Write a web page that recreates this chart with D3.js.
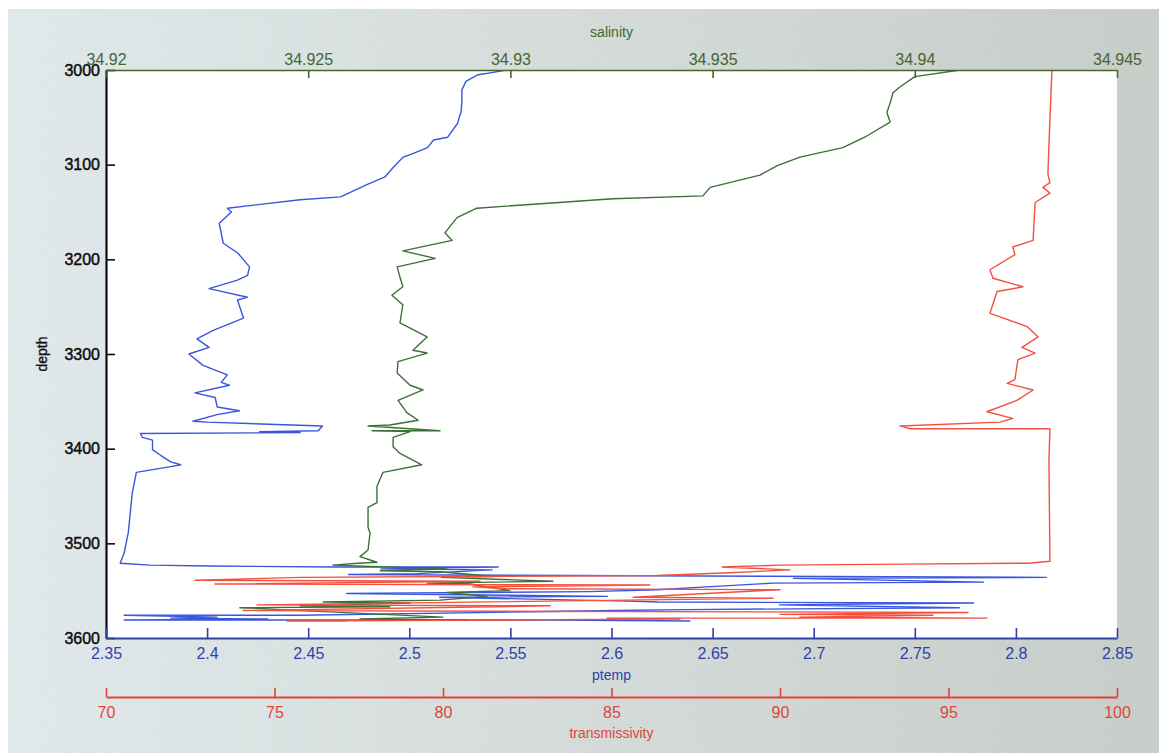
<!DOCTYPE html>
<html>
<head>
<meta charset="utf-8">
<script src="https://cdn.jsdelivr.net/npm/d3@7"></script>
<style>
  html, body { margin: 0; padding: 0; background: #ffffff; }
  svg { display: block; }
  text { font-family: "Liberation Sans", Arial, Helvetica, sans-serif; }
</style>
</head>
<body>
<svg id="chart" width="1159" height="753"></svg>
<script>
// ---- Tick values for the four axes ----
const depthTicks = [3000, 3100, 3200, 3300, 3400, 3500, 3600];
const ptempTicks = [2.35, 2.4, 2.45, 2.5, 2.55, 2.6, 2.65, 2.7, 2.75, 2.8, 2.85];
const salinityTicks = [34.92, 34.925, 34.93, 34.935, 34.94, 34.945];
const transTicks = [70, 75, 80, 85, 90, 95, 100];

// ---- Potential temperature profile: [depth, ptemp] ----
const ptempProfile = [
  [3000, 2.548], [3003, 2.540], [3005, 2.534], [3012, 2.528], [3021, 2.526],
  [3033, 2.526], [3045, 2.5256], [3049, 2.5248], [3056, 2.524],
  [3071, 2.519], [3074, 2.512], [3082, 2.509], [3088, 2.502], [3092, 2.497],
  [3103, 2.492], [3113, 2.488],
  [3121, 2.479], [3134, 2.466], [3137, 2.446], [3146, 2.410], [3150, 2.412],
  [3162, 2.406], [3183, 2.408], [3193, 2.415], [3208, 2.421], [3217, 2.420],
  [3222, 2.415], [3231, 2.401], [3240, 2.420], [3243, 2.415], [3262, 2.418],
  [3275, 2.403], [3284, 2.395], [3293, 2.401], [3300, 2.391], [3312, 2.398],
  [3322, 2.410], [3330, 2.407], [3333, 2.411], [3341, 2.394], [3346, 2.404],
  [3356, 2.405], [3360, 2.416], [3364, 2.405], [3371, 2.393], [3372, 2.400],
  [3376, 2.457], [3381, 2.455], [3382, 2.426], [3383, 2.446], [3384, 2.367],
  [3388, 2.368], [3391, 2.373], [3401, 2.373], [3407, 2.377], [3414, 2.382],
  [3417, 2.387], [3419, 2.382], [3425, 2.365], [3447, 2.363], [3489, 2.361],
  [3510, 2.359], [3521, 2.357], [3523, 2.372], [3524, 2.401], [3525, 2.462],
  [3525, 2.544], [3527, 2.486], [3528, 2.541], [3532, 2.504], [3533, 2.470],
  [3536, 2.815], [3537, 2.690], [3541, 2.784], [3542, 2.680], [3546, 2.647], [3549, 2.623],
  [3551, 2.589], [3553, 2.469], [3556, 2.598], [3557, 2.515], [3561, 2.608],
  [3562, 2.623], [3563, 2.779], [3565, 2.683], [3568, 2.772], [3570, 2.637],
  [3571, 2.601], [3572, 2.570], [3576, 2.446], [3576, 2.359], [3578, 2.405],
  [3579, 2.382], [3580, 2.430], [3581, 2.359], [3581, 2.570], [3582, 2.639]
];

// ---- Salinity profile: [depth, salinity] ----
const salinityProfile = [
  [3000, 34.94112], [3007, 34.94000], [3018, 34.93963], [3024, 34.93946],
  [3035, 34.93939], [3045, 34.93931], [3055, 34.93939], [3070, 34.93880],
  [3082, 34.93822], [3092, 34.93716], [3101, 34.93660], [3111, 34.93617],
  [3124, 34.93494], [3133, 34.93476],
  [3136, 34.93254], [3146, 34.92917], [3156, 34.92868], [3172, 34.92838],
  [3180, 34.92856], [3191, 34.92734], [3199, 34.92814], [3208, 34.92720],
  [3219, 34.92727], [3229, 34.92734], [3238, 34.92707], [3248, 34.92734],
  [3267, 34.92727], [3282, 34.92794], [3296, 34.92759], [3299, 34.92794],
  [3308, 34.92722], [3320, 34.92720], [3333, 34.92752], [3338, 34.92784],
  [3349, 34.92722], [3362, 34.92744], [3370, 34.92772], [3375, 34.92702],
  [3376, 34.92648], [3381, 34.92826], [3381, 34.92658], [3382, 34.92752],
  [3388, 34.92710], [3398, 34.92710], [3405, 34.92727], [3417, 34.92781],
  [3425, 34.92685], [3440, 34.92670], [3457, 34.92670], [3462, 34.92648],
  [3483, 34.92648], [3489, 34.92653], [3507, 34.92648], [3514, 34.92628],
  [3520, 34.92670], [3521, 34.92623], [3523, 34.92561], [3527, 34.92843],
  [3529, 34.92678], [3530, 34.92826], [3535, 34.92960], [3536, 34.92830],
  [3540, 34.93105], [3542, 34.92794],
  [3543, 34.92900], [3550, 34.92999], [3552, 34.92843], [3556, 34.92942],
  [3560, 34.92826], [3562, 34.92537], [3563, 34.92752], [3566, 34.92480],
  [3567, 34.92702], [3568, 34.92331], [3578, 34.92833], [3580, 34.92628],
  [3581, 34.92900]
];

// ---- Transmissivity profile: [depth, transmissivity] ----
const transProfile = [
  [3000, 98.07], [3060, 98.00], [3110, 97.95], [3119, 98.01], [3124, 97.80],
  [3130, 98.01], [3140, 97.57],
  [3180, 97.51], [3187, 96.91], [3195, 96.97], [3211, 96.23], [3220, 96.32],
  [3229, 97.21], [3234, 96.44], [3257, 96.23], [3271, 97.33], [3282, 97.66],
  [3293, 97.18], [3299, 97.57], [3306, 97.06], [3327, 96.97], [3331, 96.74],
  [3338, 97.51], [3349, 97.03], [3361, 96.14], [3368, 96.91], [3372, 96.53],
  [3376, 93.56], [3379, 93.86], [3379, 98.01], [3412, 97.98], [3519, 98.01],
  [3521, 97.36], [3522, 93.65], [3523, 90.00], [3525, 88.28], [3528, 90.30],
  [3531, 88.52], [3534, 86.35], [3536, 75.76], [3539, 72.64], [3540, 81.10],
  [3543, 73.23], [3544, 86.14], [3546, 80.89], [3548, 81.90], [3549, 90.00],
  [3557, 85.64], [3558, 89.79], [3565, 74.48], [3566, 83.18], [3571, 74.07],
  [3573, 95.58], [3575, 90.00], [3576, 94.54], [3578, 90.59], [3579, 96.14],
  [3579, 84.87], [3580, 87.03], [3581, 80.71], [3581, 82.88], [3582, 75.37],
  [3582, 77.15]
];

// ---- Layout ----
const W = 1159, H = 753;
const plot = { left: 106, right: 1117, top: 70, bottom: 638 };
const transAxisY = 697;

const colors = {
  ptempLine: "#3a56dc",
  ptempAxis: "#2f42aa",
  salLine: "#3d6f38",
  salAxis: "#45662f",
  transLine: "#f4503f",
  transAxis: "#e0453a",
  depthAxis: "#0d0d0d"
};

const svg = d3.select("#chart");
const defs = svg.append("defs");

// figure background: soft grey-green wash with a fine grain
const grad = defs.append("linearGradient").attr("id", "figbg")
  .attr("x1", "0%").attr("x2", "100%").attr("y1", "0%").attr("y2", "0%");
grad.append("stop").attr("offset", "0%").attr("stop-color", "#e6eef1");
grad.append("stop").attr("offset", "45%").attr("stop-color", "#d9e1df");
grad.append("stop").attr("offset", "100%").attr("stop-color", "#c9d0cb");

const grain = defs.append("filter").attr("id", "grain")
  .attr("x", 0).attr("y", 0).attr("width", "100%").attr("height", "100%");
grain.append("feTurbulence").attr("type", "fractalNoise")
  .attr("baseFrequency", 0.85).attr("numOctaves", 2).attr("seed", 3)
  .attr("stitchTiles", "stitch");
grain.append("feColorMatrix").attr("type", "matrix")
  .attr("values", "0.33 0.33 0.33 0 0  0.33 0.33 0.33 0 0  0.33 0.33 0.33 0 0  0 0 0 0 1");

svg.append("rect").attr("x", 8).attr("y", 9).attr("width", W - 8).attr("height", H - 9)
  .attr("fill", "url(#figbg)");
svg.append("rect").attr("x", 8).attr("y", 9).attr("width", W - 8).attr("height", H - 9)
  .attr("filter", "url(#grain)").attr("opacity", 0.10);

// plot area
svg.append("rect")
  .attr("x", plot.left).attr("y", plot.top)
  .attr("width", plot.right - plot.left).attr("height", plot.bottom - plot.top)
  .attr("fill", "#ffffff");

defs.append("clipPath").attr("id", "plotclip").append("rect")
  .attr("x", plot.left).attr("y", plot.top)
  .attr("width", plot.right - plot.left).attr("height", plot.bottom - plot.top);

// ---- Scales ----
const yDepth = d3.scaleLinear().domain([3000, 3600]).range([plot.top, plot.bottom]);
const xPtemp = d3.scaleLinear().domain([2.35, 2.85]).range([plot.left, plot.right]);
const xSal = d3.scaleLinear().domain([34.92, 34.945]).range([plot.left, plot.right]);
const xTrans = d3.scaleLinear().domain([70, 100]).range([plot.left, plot.right]);

// ---- Profiles ----
const lines = svg.append("g").attr("clip-path", "url(#plotclip)");

function drawProfile(data, xScale, color) {
  const gen = d3.line().x(d => xScale(d[1])).y(d => yDepth(d[0]));
  lines.append("path")
    .datum(data)
    .attr("d", gen)
    .attr("fill", "none")
    .attr("stroke", color)
    .attr("stroke-width", 1.4)
    .attr("stroke-linejoin", "round");
}
drawProfile(ptempProfile, xPtemp, colors.ptempLine);
drawProfile(salinityProfile, xSal, colors.salLine);
drawProfile(transProfile, xTrans, colors.transLine);

// ---- Axes ----
const fmt = d => String(d);

function styleAxis(g, color, lineWidth, heavy) {
  g.selectAll(".domain").attr("stroke", color).attr("stroke-width", lineWidth);
  g.selectAll(".tick line").attr("stroke", color).attr("stroke-width", 1.6);
  const t = g.selectAll(".tick text").attr("fill", color).attr("font-size", 16)
    .attr("font-family", "'Liberation Sans', Arial, sans-serif");
  if (heavy) t.attr("stroke", color).attr("stroke-width", 0.45);
}

// depth (left)
const gDepth = svg.append("g").attr("transform", `translate(${plot.left},0)`)
  .call(d3.axisLeft(yDepth).tickValues(depthTicks).tickFormat(fmt)
    .tickSizeInner(-9).tickSizeOuter(0).tickPadding(6));
styleAxis(gDepth, colors.depthAxis, 2.2, true);

// salinity (top)
const gSal = svg.append("g").attr("transform", `translate(0,${plot.top})`)
  .call(d3.axisTop(xSal).tickValues(salinityTicks).tickFormat(fmt)
    .tickSizeInner(-8).tickSizeOuter(0).tickPadding(5));
styleAxis(gSal, colors.salAxis, 1.6, false);

// ptemp (bottom)
const gPtemp = svg.append("g").attr("transform", `translate(0,${plot.bottom})`)
  .call(d3.axisBottom(xPtemp).tickValues(ptempTicks).tickFormat(fmt)
    .tickSizeInner(-10).tickSizeOuter(0).tickPadding(10));
styleAxis(gPtemp, colors.ptempAxis, 2, false);

// transmissivity (detached, below)
const gTrans = svg.append("g").attr("transform", `translate(0,${transAxisY})`)
  .call(d3.axisBottom(xTrans).tickValues(transTicks).tickFormat(fmt)
    .tickSizeInner(-9).tickSizeOuter(0).tickPadding(10));
styleAxis(gTrans, colors.transAxis, 1.8, false);

// ---- Axis titles ----
const midX = (plot.left + plot.right) / 2;
svg.append("text").text("salinity")
  .attr("x", midX).attr("y", 37).attr("text-anchor", "middle")
  .attr("font-size", 14).attr("fill", colors.salAxis);
svg.append("text").text("ptemp")
  .attr("x", midX).attr("y", 680).attr("text-anchor", "middle")
  .attr("font-size", 14).attr("fill", colors.ptempAxis);
svg.append("text").text("transmissivity")
  .attr("x", midX).attr("y", 738).attr("text-anchor", "middle")
  .attr("font-size", 14).attr("fill", colors.transAxis);
svg.append("text").text("depth")
  .attr("transform", `translate(47,${(plot.top + plot.bottom) / 2}) rotate(-90)`)
  .attr("text-anchor", "middle")
  .attr("font-size", 14).attr("fill", "#111111")
  .attr("stroke", "#111111").attr("stroke-width", 0.35);
</script>
</body>
</html>
